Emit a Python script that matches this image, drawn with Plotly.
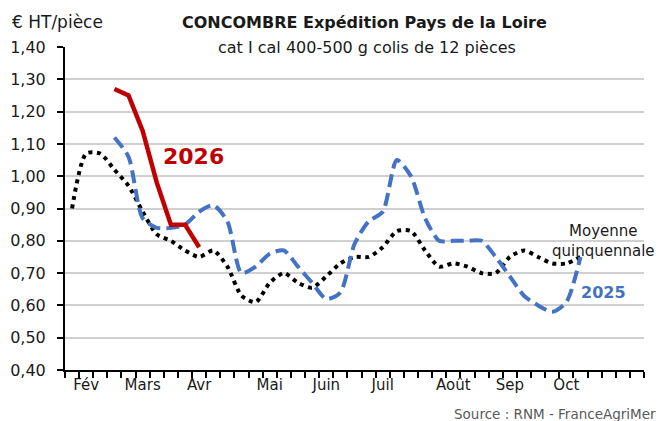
import plotly.graph_objects as go

weeks = list(range(41))
month_pos = [1, 5, 9, 14, 18, 22, 27, 31, 35]
month_labels = ["Fév", "Mars", "Avr", "Mai", "Juin", "Juil", "Août", "Sep", "Oct"]

N = None
y2026 = [N, N, N, 1.27, 1.25, 1.14, 0.98, 0.85, 0.85, 0.78] + [N] * 31
y2025 = [N, N, N, 1.12, 1.06, 0.87, 0.84, 0.84, 0.85, 0.89, 0.91, 0.86, 0.70,
         0.72, 0.76, 0.77, 0.72, 0.67, 0.62, 0.64, 0.79, 0.86, 0.89, 1.05, 1.00,
         0.87, 0.80, 0.80, 0.80, 0.80, 0.75, 0.69, 0.63, 0.60, 0.58, 0.61, 0.75] + [N] * 4
ymoy = [0.90, 1.07, 1.07, 1.02, 0.97, 0.89, 0.82, 0.80, 0.77, 0.75, 0.77, 0.72, 0.63,
        0.61, 0.67, 0.70, 0.67, 0.655, 0.69, 0.73, 0.75, 0.75, 0.78, 0.83, 0.83,
        0.77, 0.72, 0.73, 0.72, 0.70, 0.70, 0.75, 0.77, 0.75, 0.73, 0.73, 0.75] + [N] * 4

FONT = "DejaVu Sans"
RED = "#C00000"
BLUE = "#4472C4"

fig = go.Figure()
fig.add_trace(go.Scatter(x=weeks, y=ymoy, mode="lines", name="Moyenne quinquennale",
                         line=dict(color="black", width=4, dash="4px,4.5px", shape="spline", smoothing=0.7)))
fig.add_trace(go.Scatter(x=weeks, y=y2025, mode="lines", name="2025",
                         line=dict(color=BLUE, width=4, dash="13px,6px", shape="spline", smoothing=0.7)))
fig.add_trace(go.Scatter(x=weeks, y=y2026, mode="lines", name="2026",
                         line=dict(color=RED, width=4.5)))

# the page body adds an 8px offset, so the figure is 8px smaller and shifted
fig.update_layout(
    width=656, height=413,
    margin=dict(l=57, r=20, t=39, b=51),
    paper_bgcolor="white", plot_bgcolor="white",
    showlegend=False,
    separators=", ",
    font=dict(family=FONT, size=15, color="#1a1a1a"),
)
fig.update_xaxes(
    range=[-0.5, 40.5],
    tickmode="array", tickvals=month_pos, ticktext=month_labels,
    ticks="", showgrid=False,
    showline=True, linecolor="black", linewidth=2,
    tickfont=dict(size=15, color="#1a1a1a"),
    minor=dict(tickmode="linear", tick0=-0.5, dtick=1, ticks="outside", ticklen=6,
               tickwidth=2, tickcolor="black", showgrid=False),
    zeroline=False, automargin=False,
)
fig.update_yaxes(
    range=[0.4, 1.4],
    tickmode="linear", tick0=0.4, dtick=0.1, tickformat=".2f",
    ticks="outside", ticklen=6, tickwidth=2, tickcolor="black",
    ticklabelstandoff=8,
    showline=True, linecolor="black", linewidth=2,
    showgrid=True, gridcolor="#D0D0D0", gridwidth=2,
    tickfont=dict(size=16, color="#1a1a1a"),
    zeroline=False, automargin=False,
)
# hide the top gridline at 1.40 (none in the reference)
fig.add_shape(type="line", xref="paper", yref="y", x0=0.004, x1=1.0, y0=1.4, y1=1.4,
              line=dict(color="white", width=3), layer="below")

fig.add_annotation(text="€ HT/pièce", xref="paper", yref="paper", x=-0.095, y=1.0,
                   yshift=25, xanchor="left", yanchor="middle", showarrow=False,
                   font=dict(size=17, color="#1a1a1a"))
fig.add_annotation(text="<b>CONCOMBRE Expédition Pays de la Loire</b>", xref="paper", yref="paper",
                   x=0.5, xshift=10, y=1.0, yshift=25, xanchor="center", yanchor="middle",
                   showarrow=False, font=dict(size=16, color="#1a1a1a"))
fig.add_annotation(text="cat I cal 400-500 g colis de 12 pièces", xref="paper", yref="paper",
                   x=0.5, xshift=12, y=1.0, yshift=0, xanchor="center", yanchor="middle",
                   showarrow=False, font=dict(size=16, color="#1a1a1a"))
fig.add_annotation(text="<b>2026</b>", x=8.6, y=1.06, xref="x", yref="y", showarrow=False,
                   font=dict(size=22, color=RED))
fig.add_annotation(text="<b>2025</b>", x=37.6, y=0.64, xref="x", yref="y", showarrow=False,
                   font=dict(size=16, color=BLUE))
fig.add_annotation(text="Moyenne<br>quinquennale", x=37.6, y=0.80, xref="x", yref="y",
                   showarrow=False, align="center", font=dict(size=15, color="#1a1a1a"))
fig.add_annotation(text="Source : RNM - FranceAgriMer", xref="paper", yref="paper",
                   x=(444 - 57) / 579, y=0, yshift=-44, xanchor="left", yanchor="middle",
                   showarrow=False, font=dict(size=13.5, color="#595959"))

fig.write_html("out.html")
